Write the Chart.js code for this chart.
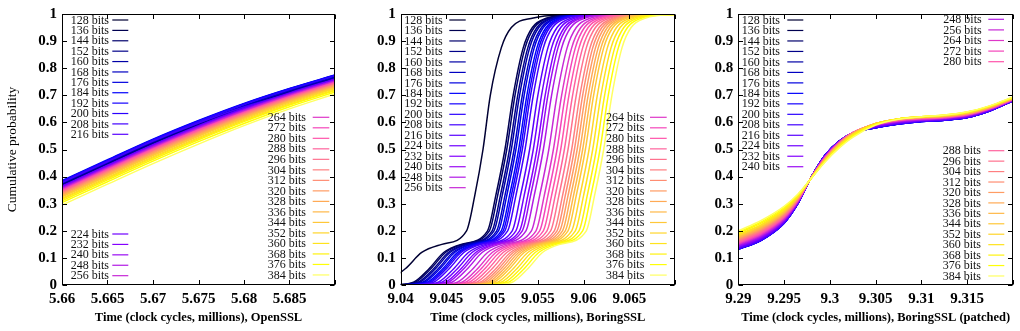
<!DOCTYPE html>
<html><head><meta charset="utf-8">
<script src="https://cdn.jsdelivr.net/npm/chart.js@4.4.1/dist/chart.umd.min.js"></script>
<style>
html,body{margin:0;padding:0;background:#fff;}
#wrap{position:relative;width:1020px;height:331px;overflow:hidden;}
.p{position:absolute;top:0;width:340px;height:331px;}
canvas{display:block;}
</style></head><body>
<div id="wrap">
<div class="p" style="left:0"><canvas id="c1" width="340" height="331"></canvas></div>
<div class="p" style="left:340px"><canvas id="c2" width="340" height="331"></canvas></div>
<div class="p" style="left:680px"><canvas id="c3" width="340" height="331"></canvas></div>
</div>
<script>
// ---------- data ----------
const bits = [128,136,144,152,160,168,176,184,192,200,208,216,224,232,240,248,256,
              264,272,280,288,296,304,312,320,328,336,344,352,360,368,376,384];

// Panel 1: OpenSSL, cumulative probability at fixed times
const opensslX = [5.66, 5.665, 5.67, 5.675, 5.68, 5.685, 5.69];
const opensslY = [
 [0.372,0.449,0.525,0.594,0.658,0.714,0.765],
 [0.370,0.447,0.523,0.592,0.656,0.712,0.763],
 [0.371,0.448,0.524,0.593,0.657,0.713,0.764],
 [0.369,0.446,0.522,0.591,0.655,0.711,0.762],
 [0.374,0.451,0.527,0.597,0.660,0.716,0.767],
 [0.376,0.453,0.529,0.598,0.662,0.718,0.768],
 [0.383,0.460,0.536,0.605,0.668,0.724,0.774],
 [0.385,0.462,0.538,0.607,0.670,0.725,0.775],
 [0.382,0.459,0.535,0.604,0.668,0.723,0.773],
 [0.381,0.458,0.534,0.603,0.666,0.721,0.772],
 [0.378,0.455,0.531,0.598,0.657,0.705,0.747],
 [0.365,0.442,0.518,0.588,0.652,0.709,0.760],
 [0.363,0.440,0.516,0.585,0.650,0.706,0.758],
 [0.360,0.437,0.513,0.583,0.647,0.704,0.755],
 [0.358,0.435,0.511,0.581,0.645,0.703,0.754],
 [0.356,0.433,0.509,0.579,0.644,0.701,0.753],
 [0.354,0.431,0.507,0.577,0.641,0.699,0.751],
 [0.351,0.428,0.504,0.574,0.639,0.697,0.748],
 [0.349,0.426,0.502,0.572,0.637,0.695,0.747],
 [0.347,0.424,0.500,0.571,0.636,0.694,0.746],
 [0.345,0.422,0.498,0.568,0.633,0.691,0.744],
 [0.342,0.419,0.495,0.565,0.631,0.689,0.741],
 [0.340,0.417,0.493,0.564,0.629,0.688,0.740],
 [0.337,0.414,0.490,0.561,0.627,0.685,0.738],
 [0.335,0.412,0.488,0.558,0.624,0.683,0.736],
 [0.331,0.408,0.484,0.555,0.621,0.680,0.733],
 [0.328,0.405,0.481,0.552,0.618,0.678,0.731],
 [0.325,0.402,0.478,0.549,0.615,0.675,0.728],
 [0.320,0.397,0.473,0.544,0.611,0.671,0.725],
 [0.316,0.393,0.469,0.540,0.607,0.667,0.721],
 [0.311,0.388,0.464,0.536,0.603,0.664,0.718],
 [0.304,0.381,0.457,0.529,0.596,0.658,0.712],
 [0.295,0.372,0.448,0.520,0.588,0.650,0.705]
];

// Panel 2: BoringSSL, time (millions of cycles) at which each probability level is reached
const boringLevels = [0, 0.01, 0.06, 0.12, 0.15, 0.20, 0.33, 0.50, 0.70, 0.875, 0.95, 0.985, 0.997, 1.0];
const boringX = [
 [9.0355,9.0382,9.0405,9.0423,9.0445,9.0472,9.0481,9.0490,9.0498,9.0510,9.0521,9.0545,9.0580,9.0640],
 [9.0394,9.0414,9.0431,9.0447,9.0466,9.0495,9.0504,9.0514,9.0523,9.0534,9.0544,9.0560,9.0589,9.0634],
 [9.0396,9.0416,9.0433,9.0449,9.0468,9.0497,9.0506,9.0516,9.0525,9.0536,9.0546,9.0562,9.0591,9.0636],
 [9.0399,9.0419,9.0436,9.0452,9.0471,9.0500,9.0509,9.0519,9.0528,9.0539,9.0549,9.0565,9.0594,9.0639],
 [9.0401,9.0421,9.0438,9.0454,9.0473,9.0502,9.0511,9.0521,9.0530,9.0541,9.0551,9.0567,9.0596,9.0641],
 [9.0404,9.0424,9.0441,9.0457,9.0476,9.0505,9.0514,9.0524,9.0533,9.0544,9.0554,9.0570,9.0599,9.0644],
 [9.0406,9.0426,9.0443,9.0459,9.0478,9.0507,9.0516,9.0526,9.0535,9.0546,9.0556,9.0572,9.0601,9.0646],
 [9.0409,9.0429,9.0446,9.0462,9.0481,9.0510,9.0519,9.0529,9.0538,9.0549,9.0559,9.0575,9.0604,9.0649],
 [9.0411,9.0431,9.0448,9.0464,9.0483,9.0512,9.0521,9.0531,9.0540,9.0551,9.0561,9.0577,9.0606,9.0651],
 [9.0413,9.0433,9.0450,9.0466,9.0485,9.0514,9.0523,9.0533,9.0542,9.0553,9.0563,9.0579,9.0608,9.0653],
 [9.0416,9.0436,9.0453,9.0469,9.0488,9.0517,9.0526,9.0536,9.0545,9.0556,9.0566,9.0582,9.0611,9.0656],
 [9.0421,9.0441,9.0458,9.0474,9.0493,9.0522,9.0531,9.0541,9.0550,9.0561,9.0571,9.0587,9.0616,9.0661],
 [9.0425,9.0445,9.0462,9.0478,9.0497,9.0526,9.0535,9.0545,9.0554,9.0565,9.0575,9.0591,9.0620,9.0665],
 [9.0429,9.0449,9.0466,9.0482,9.0501,9.0530,9.0539,9.0549,9.0558,9.0569,9.0579,9.0595,9.0624,9.0669],
 [9.0432,9.0452,9.0469,9.0485,9.0504,9.0533,9.0542,9.0552,9.0561,9.0572,9.0582,9.0598,9.0627,9.0672],
 [9.0436,9.0456,9.0473,9.0489,9.0508,9.0537,9.0546,9.0556,9.0565,9.0576,9.0586,9.0602,9.0631,9.0676],
 [9.0442,9.0462,9.0479,9.0495,9.0514,9.0543,9.0552,9.0562,9.0571,9.0582,9.0592,9.0608,9.0637,9.0682],
 [9.0447,9.0467,9.0484,9.0500,9.0519,9.0548,9.0557,9.0567,9.0576,9.0587,9.0597,9.0613,9.0642,9.0687],
 [9.0451,9.0471,9.0488,9.0504,9.0523,9.0552,9.0561,9.0571,9.0580,9.0591,9.0601,9.0617,9.0646,9.0691],
 [9.0455,9.0475,9.0492,9.0508,9.0527,9.0556,9.0565,9.0575,9.0584,9.0595,9.0605,9.0621,9.0650,9.0695],
 [9.0459,9.0479,9.0496,9.0512,9.0531,9.0560,9.0569,9.0579,9.0588,9.0599,9.0609,9.0625,9.0654,9.0699],
 [9.0463,9.0483,9.0500,9.0516,9.0535,9.0564,9.0573,9.0583,9.0592,9.0603,9.0613,9.0629,9.0658,9.0703],
 [9.0467,9.0487,9.0504,9.0520,9.0539,9.0568,9.0577,9.0587,9.0596,9.0607,9.0617,9.0633,9.0662,9.0707],
 [9.0470,9.0490,9.0507,9.0523,9.0542,9.0571,9.0580,9.0590,9.0599,9.0610,9.0620,9.0636,9.0665,9.0710],
 [9.0473,9.0493,9.0510,9.0526,9.0545,9.0574,9.0583,9.0593,9.0602,9.0613,9.0623,9.0639,9.0668,9.0713],
 [9.0476,9.0496,9.0513,9.0529,9.0548,9.0577,9.0586,9.0596,9.0605,9.0616,9.0626,9.0642,9.0671,9.0716],
 [9.0479,9.0499,9.0516,9.0532,9.0551,9.0580,9.0589,9.0599,9.0608,9.0619,9.0629,9.0645,9.0674,9.0719],
 [9.0482,9.0502,9.0519,9.0535,9.0554,9.0583,9.0592,9.0602,9.0611,9.0622,9.0632,9.0648,9.0677,9.0722],
 [9.0486,9.0506,9.0523,9.0539,9.0558,9.0587,9.0596,9.0606,9.0615,9.0626,9.0636,9.0652,9.0681,9.0726],
 [9.0490,9.0510,9.0527,9.0543,9.0562,9.0591,9.0600,9.0610,9.0619,9.0630,9.0640,9.0656,9.0685,9.0730],
 [9.0494,9.0514,9.0531,9.0547,9.0566,9.0595,9.0604,9.0614,9.0623,9.0634,9.0644,9.0660,9.0689,9.0734],
 [9.0498,9.0518,9.0535,9.0551,9.0570,9.0599,9.0608,9.0618,9.0627,9.0638,9.0648,9.0664,9.0693,9.0738],
 [9.0502,9.0522,9.0539,9.0555,9.0574,9.0603,9.0612,9.0622,9.0631,9.0642,9.0652,9.0668,9.0697,9.0742]
];

// Panel 3: BoringSSL (patched), cumulative probability at fixed times
const patchedX = [9.29, 9.2925, 9.295, 9.2965, 9.298, 9.2995, 9.301, 9.3025, 9.305, 9.3075, 9.31, 9.3125, 9.315, 9.3175, 9.32];
const patchedY = [
 [0.135,0.168,0.231,0.301,0.400,0.479,0.530,0.561,0.582,0.596,0.605,0.609,0.619,0.644,0.681],
 [0.134,0.167,0.230,0.301,0.400,0.479,0.530,0.560,0.582,0.595,0.604,0.609,0.619,0.644,0.680],
 [0.134,0.167,0.230,0.301,0.400,0.479,0.530,0.560,0.582,0.595,0.604,0.609,0.619,0.644,0.680],
 [0.133,0.166,0.229,0.301,0.400,0.480,0.530,0.560,0.581,0.595,0.604,0.609,0.618,0.643,0.680],
 [0.133,0.166,0.229,0.301,0.400,0.480,0.530,0.560,0.581,0.595,0.604,0.609,0.618,0.643,0.680],
 [0.133,0.166,0.229,0.300,0.400,0.480,0.530,0.560,0.580,0.594,0.603,0.608,0.618,0.643,0.680],
 [0.132,0.165,0.228,0.300,0.400,0.480,0.530,0.560,0.580,0.594,0.603,0.608,0.618,0.643,0.680],
 [0.132,0.165,0.228,0.300,0.400,0.480,0.530,0.560,0.580,0.594,0.603,0.608,0.618,0.643,0.680],
 [0.132,0.165,0.228,0.300,0.400,0.480,0.530,0.560,0.580,0.594,0.603,0.608,0.618,0.643,0.680],
 [0.133,0.166,0.229,0.300,0.400,0.480,0.530,0.560,0.580,0.594,0.603,0.608,0.618,0.643,0.680],
 [0.133,0.166,0.229,0.301,0.400,0.480,0.530,0.560,0.581,0.595,0.604,0.609,0.618,0.643,0.680],
 [0.136,0.169,0.232,0.302,0.400,0.479,0.530,0.561,0.583,0.597,0.605,0.610,0.620,0.645,0.681],
 [0.139,0.172,0.234,0.303,0.399,0.477,0.529,0.561,0.585,0.599,0.607,0.611,0.621,0.646,0.681],
 [0.142,0.175,0.237,0.305,0.399,0.477,0.528,0.562,0.586,0.600,0.608,0.613,0.622,0.647,0.682],
 [0.144,0.178,0.239,0.306,0.399,0.475,0.528,0.562,0.588,0.602,0.609,0.614,0.624,0.648,0.682],
 [0.147,0.181,0.242,0.308,0.399,0.474,0.527,0.562,0.589,0.603,0.610,0.615,0.625,0.649,0.683],
 [0.150,0.184,0.244,0.309,0.399,0.473,0.527,0.562,0.590,0.605,0.612,0.616,0.626,0.650,0.684],
 [0.152,0.187,0.247,0.310,0.398,0.473,0.526,0.562,0.591,0.606,0.613,0.617,0.627,0.650,0.684],
 [0.155,0.190,0.249,0.312,0.398,0.472,0.525,0.562,0.592,0.607,0.614,0.618,0.628,0.651,0.685],
 [0.158,0.193,0.252,0.313,0.398,0.470,0.524,0.562,0.593,0.608,0.615,0.619,0.629,0.652,0.685],
 [0.161,0.196,0.254,0.315,0.398,0.469,0.523,0.561,0.594,0.609,0.615,0.620,0.630,0.653,0.686],
 [0.163,0.199,0.256,0.316,0.398,0.468,0.522,0.561,0.595,0.610,0.616,0.621,0.631,0.654,0.686],
 [0.166,0.202,0.259,0.318,0.397,0.467,0.521,0.560,0.595,0.611,0.617,0.622,0.632,0.655,0.687],
 [0.169,0.204,0.262,0.319,0.397,0.466,0.520,0.560,0.595,0.612,0.618,0.622,0.632,0.655,0.688],
 [0.171,0.207,0.264,0.320,0.397,0.465,0.519,0.559,0.596,0.612,0.618,0.623,0.633,0.656,0.688],
 [0.174,0.210,0.266,0.322,0.397,0.464,0.518,0.558,0.596,0.613,0.619,0.624,0.634,0.657,0.689],
 [0.177,0.213,0.269,0.323,0.397,0.463,0.517,0.557,0.596,0.613,0.619,0.624,0.635,0.657,0.689],
 [0.180,0.216,0.271,0.324,0.396,0.462,0.516,0.556,0.595,0.613,0.620,0.625,0.635,0.658,0.690],
 [0.183,0.220,0.274,0.326,0.396,0.461,0.514,0.555,0.595,0.613,0.620,0.625,0.636,0.659,0.690],
 [0.186,0.223,0.278,0.328,0.396,0.460,0.513,0.553,0.594,0.613,0.621,0.626,0.637,0.660,0.691],
 [0.191,0.228,0.281,0.330,0.396,0.458,0.510,0.551,0.593,0.613,0.621,0.626,0.638,0.660,0.692],
 [0.195,0.233,0.286,0.333,0.395,0.457,0.508,0.548,0.592,0.613,0.621,0.627,0.638,0.661,0.693],
 [0.200,0.238,0.290,0.335,0.395,0.455,0.505,0.545,0.590,0.612,0.621,0.627,0.639,0.662,0.694]
];

const xTitles = ['Time (clock cycles, millions), OpenSSL',
                 'Time (clock cycles, millions), BoringSSL',
                 'Time (clock cycles, millions), BoringSSL (patched)'];
const yTitle = 'Cumulative probability';

// ---------- style ----------
const SERIF = '"Liberation Serif", "DejaVu Serif", serif';
function clamp(v){ return Math.max(0, Math.min(1, v)); }
// gnuplot rgbformulae 30,31,32 palette
function palette(t){
  const r = clamp(t/0.32 - 0.78125);
  const g = clamp(2*t - 0.84);
  let b;
  if (t < 0.25) b = 4*t; else if (t < 0.42) b = 1; else if (t < 0.92) b = -2*t + 1.84; else b = t/0.08 - 11.5;
  b = clamp(b);
  return 'rgb(' + Math.round(r*255) + ',' + Math.round(g*255) + ',' + Math.round(b*255) + ')';
}
const colors = bits.map((b, i) => palette(0.05 + 0.9 * i / (bits.length - 1)));

const framePlugin = {
  id: 'gpFrame',
  afterDraw(chart, args, opts) {
    const ctx = chart.ctx, a = chart.chartArea, xs = chart.scales.x, ys = chart.scales.y;
    ctx.save();
    ctx.strokeStyle = '#000';
    ctx.lineWidth = 1;
    const L = Math.round(a.left) + 0.5, R = Math.round(a.right) - 0.5;
    const T = Math.round(a.top) + 0.5, B = Math.round(a.bottom) - 0.5;
    ctx.strokeRect(L, T, R - L, B - T);
    const tl = 4.5;
    ctx.beginPath();
    xs.ticks.forEach(t => {
      const px = Math.round(xs.getPixelForValue(t.value)) + 0.5;
      ctx.moveTo(px, B); ctx.lineTo(px, B - tl);
      ctx.moveTo(px, T); ctx.lineTo(px, T + tl);
    });
    ys.ticks.forEach(t => {
      const py = Math.round(ys.getPixelForValue(t.value)) + 0.5;
      ctx.moveTo(L, py); ctx.lineTo(L + tl, py);
      ctx.moveTo(R, py); ctx.lineTo(R - tl, py);
    });
    ctx.stroke();
    // key
    ctx.font = '12px ' + SERIF;
    ctx.textAlign = 'right';
    ctx.textBaseline = 'middle';
    (opts.blocks || []).forEach(bl => {
      for (let i = bl.from; i <= bl.to; i++) {
        const y = bl.y0 + (i - bl.from) * bl.dy;
        ctx.fillStyle = '#111';
        ctx.fillText(bits[i] + ' bits', bl.tr, y + 0.5);
        ctx.strokeStyle = chart.data.datasets[i].borderColor;
        ctx.lineWidth = 1.2;
        ctx.beginPath(); ctx.moveTo(bl.l0, y); ctx.lineTo(bl.l1, y); ctx.stroke();
      }
    });
    ctx.restore();
  }
};

const tickFont = { family: SERIF, size: 15, weight: 'bold' };
const xTitleFont = { family: SERIF, size: 12.5, weight: 'bold' };
const yTitleFont = { family: SERIF, size: 13.5, weight: 'normal' };

function makeChart(id, datasets, cfg) {
  return new Chart(document.getElementById(id), {
    type: 'line',
    data: { datasets },
    options: {
      responsive: false, animation: false, devicePixelRatio: 1,
      layout: { padding: { left: 0, right: cfg.padRight, top: 11, bottom: 0 } },
      plugins: { legend: { display: false }, tooltip: { enabled: false }, gpFrame: { blocks: cfg.blocks } },
      elements: { point: { radius: 0 }, line: { borderWidth: 1.5, cubicInterpolationMode: 'monotone' } },
      scales: {
        x: {
          type: 'linear', min: cfg.xmin, max: cfg.xmax,
          afterFit: s => { s.height = 46; },
          grid: { display: false, drawTicks: false }, border: { display: false },
          ticks: {
            stepSize: 0.005, padding: 5, autoSkip: false, maxRotation: 0, minRotation: 0,
            color: '#000', font: tickFont,
            callback: v => (Math.abs(v - cfg.xmax) < 1e-7) ? '' : String(Number(v.toFixed(3)))
          },
          title: { display: true, text: cfg.xtitle, color: '#000', font: xTitleFont, padding: { top: 0, bottom: 6 } }
        },
        y: {
          type: 'linear', min: 0, max: 1,
          afterFit: s => { s.width = cfg.yWidth; },
          grid: { display: false, drawTicks: false }, border: { display: false },
          ticks: { stepSize: 0.1, padding: 5, color: '#000', font: tickFont,
                   callback: v => String(Number(v.toFixed(1))) },
          title: { display: !!cfg.ytitle, text: cfg.ytitle || '', color: '#000', font: yTitleFont, padding: { top: 4, bottom: 0 } }
        }
      }
    },
    plugins: [framePlugin]
  });
}

function dsFixedX(xs, rows) {
  return rows.map((row, i) => ({
    label: bits[i] + ' bits',
    data: row.map((v, k) => ({ x: xs[k], y: v })),
    borderColor: colors[i], borderWidth: 1.5, fill: false, order: bits.length - i
  }));
}
function dsFixedY(levels, rows) {
  return rows.map((row, i) => ({
    label: bits[i] + ' bits',
    data: row.map((v, k) => ({ x: v, y: levels[k] })),
    borderColor: colors[i], borderWidth: 1.5, fill: false, order: bits.length - i
  }));
}

makeChart('c1', dsFixedX(opensslX, opensslY), {
  xmin: 5.66, xmax: 5.69, yWidth: 62, padRight: 1, xtitle: xTitles[0], ytitle: yTitle,
  blocks: [
    { from: 0, to: 11, tr: 109, l0: 112.3, l1: 128.3, y0: 20, dy: 10.39 },
    { from: 12, to: 16, tr: 109, l0: 112.3, l1: 128.3, y0: 234, dy: 10.42 },
    { from: 17, to: 32, tr: 306, l0: 312.7, l1: 329.3, y0: 117.3, dy: 10.51 }
  ]
});
makeChart('c2', dsFixedY(boringLevels, boringX), {
  xmin: 9.04, xmax: 9.07, yWidth: 60.7, padRight: 4.3, xtitle: xTitles[1],
  blocks: [
    { from: 0, to: 16, tr: 102.7, l0: 109.3, l1: 125.7, y0: 20, dy: 10.48 },
    { from: 17, to: 32, tr: 304.3, l0: 310, l1: 326.7, y0: 117.3, dy: 10.52 }
  ]
});
makeChart('c3', dsFixedX(patchedX, patchedY), {
  xmin: 9.29, xmax: 9.32, yWidth: 58.3, padRight: 7, xtitle: xTitles[2],
  blocks: [
    { from: 0, to: 14, tr: 100, l0: 107.3, l1: 123.3, y0: 20, dy: 10.48 },
    { from: 15, to: 19, tr: 301.7, l0: 308.3, l1: 324, y0: 19.3, dy: 10.6 },
    { from: 20, to: 32, tr: 301, l0: 308.3, l1: 324.3, y0: 150.7, dy: 10.44 }
  ]
});
</script>
</body></html>
